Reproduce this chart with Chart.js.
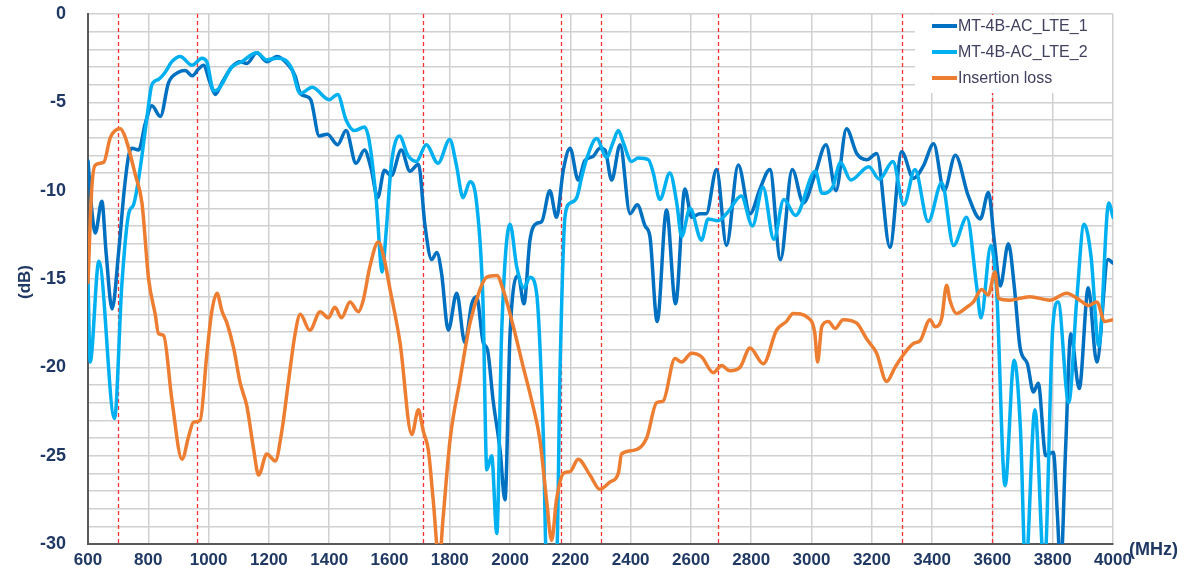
<!DOCTYPE html>
<html><head><meta charset="utf-8">
<script src="https://cdn.jsdelivr.net/npm/chart.js@4"></script>
<style>html,body{margin:0;padding:0;background:#fff}#wrap{width:1200px;height:580px;position:relative}</style>
</head><body><div id="wrap"><canvas id="c" width="1200" height="580"></canvas></div>
<script>
// ---- data ----
const seriesNames = ['MT-4B-AC_LTE_1', 'MT-4B-AC_LTE_2', 'Insertion loss'];
const xTicks = [600,800,1000,1200,1400,1600,1800,2000,2200,2400,2600,2800,3000,3200,3400,3600,3800,4000];
const yTicks = [0,-5,-10,-15,-20,-25,-30];
const bandEdges = [698, 960, 1710, 2170, 2300, 2690, 3300, 3600];

const lte1Freq = [600,612,624,646,660,680,702,720,735,746,768,790,812,840,867,900,923,945,967,983,1005,1022,1044,1077,1105,1127,1160,1193,1227,1265,1287,1304,1322,1339,1367,1394,1428,1456,1489,1517,1539,1561,1583,1606,1639,1668,1696,1718,1740,1757,1773,1795,1823,1850,1873,1889,1911,1925,1944,1967,1983,2000,2027,2046,2066,2088,2105,2132,2154,2177,2199,2226,2248,2276,2298,2315,2337,2365,2398,2422,2448,2464,2488,2519,2549,2580,2602,2630,2651,2685,2718,2757,2796,2829,2862,2897,2936,2973,3011,3048,3081,3116,3150,3183,3216,3260,3299,3338,3371,3405,3440,3477,3520,3560,3587,3606,3626,3653,3673,3692,3716,3736,3752,3777,3802,3816,3826,3843,3860,3888,3918,3946,3984,4000];
const lte1Db = [-8.3,-11.0,-12.4,-10.6,-13.5,-16.7,-13.4,-10.0,-8.0,-7.6,-7.7,-6.2,-5.2,-5.8,-3.9,-3.3,-3.2,-3.5,-3.1,-2.9,-3.9,-4.55,-3.9,-3.0,-2.7,-2.8,-2.2,-2.7,-2.4,-2.9,-3.5,-4.5,-4.65,-4.85,-6.9,-6.8,-7.4,-6.6,-8.45,-7.7,-8.75,-10.4,-8.85,-9.15,-7.7,-8.9,-8.5,-12.0,-13.9,-13.5,-14.7,-17.9,-15.8,-18.6,-16.4,-16.0,-18.6,-19.0,-21.9,-24.7,-27.5,-18.1,-14.8,-16.4,-12.8,-11.85,-11.75,-10.0,-11.5,-8.8,-7.6,-9.4,-8.3,-8.05,-7.6,-7.7,-9.4,-7.4,-11.3,-10.8,-12.0,-12.6,-17.4,-11.1,-16.4,-9.9,-11.5,-11.3,-11.3,-8.8,-13.1,-8.55,-11.3,-9.9,-8.8,-13.9,-8.8,-10.7,-9.1,-7.4,-10.0,-6.5,-7.9,-8.25,-7.9,-13.2,-7.8,-9.3,-8.6,-7.35,-10.0,-8.0,-10.3,-11.6,-10.1,-12.8,-15.4,-13.0,-15.5,-18.9,-19.8,-21.4,-20.9,-25.0,-24.8,-28.5,-31.5,-24.5,-18.1,-21.2,-15.5,-19.7,-13.9,-14.1];

const lte2Freq = [600,607,636,688,712,735,751,773,796,812,834,856,878,906,945,978,994,1017,1033,1077,1110,1160,1193,1227,1254,1276,1304,1344,1400,1428,1456,1483,1517,1533,1556,1576,1589,1606,1633,1661,1689,1722,1761,1800,1822,1844,1867,1889,1910,1923,1939,1956,1972,2000,2022,2046,2066,2088,2110,2121,2154,2166,2182,2199,2221,2238,2254,2287,2320,2343,2359,2376,2403,2425,2459,2475,2497,2530,2553,2569,2597,2635,2657,2690,2723,2767,2804,2839,2875,2908,2947,3013,3035,3070,3096,3130,3190,3225,3270,3306,3343,3387,3432,3471,3515,3548,3562,3595,3614,3642,3672,3693,3710,3741,3772,3800,3818,3853,3880,3904,3927,3953,3986,4000];
const lte2Db = [-15.0,-19.7,-14.0,-22.9,-15.4,-11.3,-10.8,-8.75,-5.8,-4.0,-3.7,-3.3,-2.7,-2.4,-2.9,-2.5,-2.7,-4.35,-4.25,-3.0,-2.7,-2.2,-2.6,-2.5,-2.6,-3.1,-4.5,-4.15,-4.85,-4.55,-6.0,-6.6,-6.4,-7.2,-10.5,-14.6,-12.3,-8.55,-6.9,-8.0,-8.35,-7.4,-8.45,-7.1,-8.55,-10.4,-9.5,-10.7,-16.2,-25.8,-25.0,-29.4,-18.1,-11.9,-14.3,-15.5,-14.9,-15.8,-23.7,-31.0,-31.0,-20.0,-11.5,-10.7,-10.4,-9.2,-8.2,-7.05,-8.1,-7.2,-6.6,-7.3,-8.35,-8.15,-8.25,-9.0,-10.5,-9.0,-10.7,-12.6,-11.0,-12.8,-11.6,-11.7,-11.2,-10.3,-12.0,-9.8,-12.75,-10.5,-11.4,-8.9,-10.15,-9.8,-8.4,-9.4,-8.65,-9.35,-8.35,-10.8,-8.8,-11.75,-9.55,-13.1,-11.5,-15.45,-17.2,-13.1,-15.7,-26.7,-19.6,-23.5,-31.5,-22.4,-31.5,-17.8,-16.3,-22.0,-16.1,-11.9,-13.7,-18.8,-10.7,-11.5];

const ilFreq = [600,612,624,652,674,707,724,757,779,801,823,834,851,878,912,934,950,972,994,1011,1028,1044,1061,1083,1105,1127,1149,1166,1193,1221,1243,1265,1287,1304,1336,1370,1397,1419,1441,1469,1497,1513,1535,1563,1579,1602,1635,1674,1696,1712,1729,1745,1765,1778,1801,1834,1867,1900,1922,1956,1977,2011,2044,2072,2099,2121,2138,2154,2177,2199,2226,2265,2298,2331,2359,2370,2409,2453,2486,2508,2547,2569,2602,2635,2674,2702,2729,2763,2796,2840,2884,2917,2939,2989,3011,3020,3034,3056,3078,3105,3150,3183,3216,3249,3277,3304,3338,3360,3393,3410,3432,3448,3459,3481,3515,3537,3564,3586,3609,3620,3658,3724,3790,3846,3890,3918,3946,3973,4000];
const ilDb = [-15.2,-10.0,-8.55,-8.4,-7.0,-6.5,-7.0,-9.1,-10.7,-15.0,-17.0,-18.1,-18.2,-21.8,-25.2,-23.9,-23.1,-23.0,-19.3,-16.8,-15.8,-16.8,-17.5,-18.9,-20.9,-22.2,-24.6,-26.1,-24.9,-25.3,-23.6,-20.8,-18.1,-17.0,-17.9,-16.85,-17.2,-16.6,-17.2,-16.3,-16.85,-16.2,-14.3,-12.9,-13.6,-15.6,-18.6,-23.8,-22.4,-23.6,-24.7,-27.5,-31.0,-28.5,-24.1,-20.7,-17.5,-15.6,-14.9,-14.8,-15.6,-17.7,-20.0,-21.9,-24.1,-27.5,-29.8,-27.5,-26.0,-25.9,-25.2,-26.1,-26.9,-26.5,-26.0,-24.9,-24.7,-24.0,-22.0,-21.9,-19.5,-19.7,-19.2,-19.4,-20.3,-19.9,-20.2,-20.0,-18.9,-19.8,-17.9,-17.4,-16.95,-17.2,-18.1,-19.7,-17.7,-17.4,-17.8,-17.3,-17.5,-18.4,-19.2,-20.8,-20.0,-19.3,-18.65,-18.5,-17.3,-17.7,-17.2,-15.35,-16.2,-16.95,-16.6,-16.3,-15.6,-15.9,-14.6,-16.1,-16.2,-16.0,-16.2,-15.8,-16.2,-16.5,-16.3,-17.4,-17.3];

const colors = ['#0070C0', '#00B0F0', '#ED7D31'];

// ---- build ----
function pts(f, d) { return f.map((x, i) => ({x: x, y: d[i]})); }
const FONT = "'Liberation Sans', Arial, sans-serif";
const NAVY = '#1F3864';

const bandPlugin = {
  id: 'bands',
  beforeDatasetsDraw(chart) {
    const {ctx, chartArea: a, scales: {x}} = chart;
    ctx.save();
    ctx.strokeStyle = '#FF3030';
    ctx.lineWidth = 1.3;
    ctx.setLineDash([4, 3]);
    bandEdges.forEach(f => {
      const px = Math.round(x.getPixelForValue(f)) + 0.5;
      ctx.beginPath(); ctx.moveTo(px, a.top); ctx.lineTo(px, a.bottom); ctx.stroke();
    });
    ctx.restore();
  },
  afterDraw(chart) {
    const {ctx, chartArea: a} = chart;
    ctx.save();
    // legend box
    ctx.fillStyle = '#ffffff';
    ctx.fillRect(915, a.top + 1, a.right - 916, 78);
    ctx.font = '16px ' + FONT;
    ctx.textBaseline = 'middle';
    chart.data.datasets.forEach((ds, i) => {
      const y = 26 + i * 26;
      ctx.strokeStyle = ds.borderColor; ctx.lineWidth = 4; ctx.setLineDash([]);
      ctx.beginPath(); ctx.moveTo(932, y); ctx.lineTo(957, y); ctx.stroke();
      ctx.fillStyle = '#404060';
      ctx.fillText(ds.label, 958, y + 1);
    });
    // axis titles
    ctx.fillStyle = NAVY;
    ctx.font = 'bold 18px ' + FONT;
    ctx.textBaseline = 'alphabetic';
    ctx.fillText('(MHz)', 1129, 555);
    ctx.translate(30, 282);
    ctx.rotate(-Math.PI / 2);
    ctx.textAlign = 'center';
    ctx.font = 'bold 17px ' + FONT;
    ctx.fillText('(dB)', 0, 0);
    ctx.restore();
  }
};

const ctx = document.getElementById('c').getContext('2d');
new Chart(ctx, {
  type: 'line',
  data: {
    datasets: [
      {label: seriesNames[0], data: pts(lte1Freq, lte1Db), borderColor: colors[0], order: 3},
      {label: seriesNames[1], data: pts(lte2Freq, lte2Db), borderColor: colors[1], order: 2},
      {label: seriesNames[2], data: pts(ilFreq, ilDb), borderColor: colors[2], order: 1}
    ]
  },
  options: {
    responsive: false,
    animation: false,
    layout: {padding: {left: 0, right: 87, top: 14, bottom: 0}},
    plugins: {legend: {display: false}, tooltip: {enabled: false}},
    elements: {
      point: {radius: 0},
      line: {borderWidth: 3.5, cubicInterpolationMode: 'monotone', borderCapStyle: 'round', borderJoinStyle: 'round'}
    },
    scales: {
      x: {
        type: 'linear', min: 600, max: 4000,
        afterBuildTicks(s) { s.ticks = xTicks.map(v => ({value: v})); },
        ticks: {font: {family: FONT, size: 17, weight: 'bold'}, color: NAVY, padding: 6, maxRotation: 0, autoSkip: false,
          callback: v => String(v)},
        grid: {color: '#d0d0d0', lineWidth: 1.5, drawTicks: false},
        border: {color: '#595959', width: 2},
        afterFit(s) { s.height = 36; s.paddingLeft = 0; s.paddingRight = 0; }
      },
      y: {
        min: -30, max: 0,
        ticks: {stepSize: 1, autoSkip: false, font: {family: FONT, size: 18, weight: 'bold'}, color: NAVY, padding: 22,
          callback: v => yTicks.includes(v) ? String(v) : ''},
        grid: {color: '#d0d0d0', lineWidth: 1.5, drawTicks: false},
        border: {color: '#595959', width: 2},
        afterFit(s) { s.width = 88; s.paddingTop = 0; s.paddingBottom = 0; }
      }
    }
  },
  plugins: [bandPlugin]
});
</script></body></html>
